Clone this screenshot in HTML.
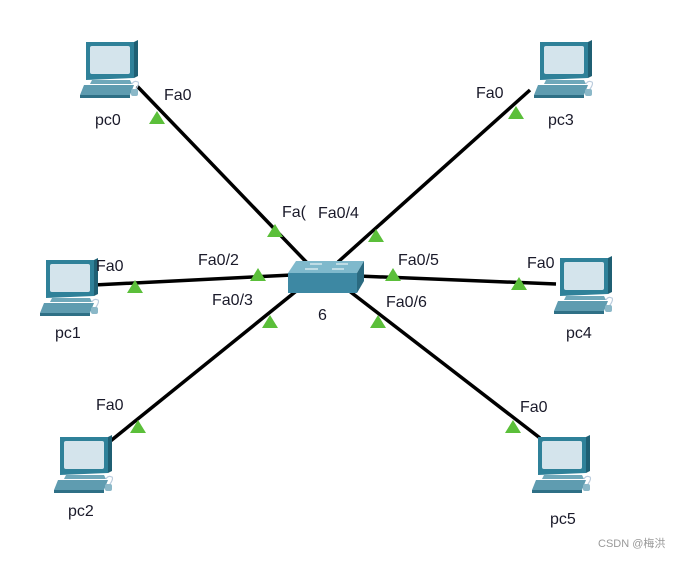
<!DOCTYPE html>
<html><head><meta charset="utf-8"><style>
body{margin:0;background:#fff;}
svg text{font-family:"Liberation Sans",Arial,sans-serif;font-size:16px;fill:#1a1a2a;}
</style></head><body>
<svg width="675" height="556" viewBox="0 0 675 556" xmlns="http://www.w3.org/2000/svg">
<defs>
<g id="pc">
  <path d="M6 0 L54 0 L54 36 L6 38 Z" fill="#2f8199"/>
  <path d="M54 0 L58 -2 L58 34 L54 36 Z" fill="#1f5f73"/>
  <rect x="10" y="4" width="40" height="28" rx="2" fill="#d4e4ec"/>
  <path d="M12 38 L50 38 L52 42 L10 42 Z" fill="#6fa8ba"/>
  <path d="M4 43 L54 43 L50 53 L0 53 Z" fill="#5f9cb0"/>
  <path d="M0 53 L50 53 L50 56 L0 56 Z" fill="#2f7086"/>
  <path d="M54 50 q6 -8 4 -10 q-4 -2 -6 2" fill="none" stroke="#bcd" stroke-width="1.2"/>
  <rect x="51" y="47" width="7" height="7" rx="2" fill="#8bb8c8"/>
</g>
<polygon id="tri" points="0,-7 8,6 -8,6" fill="#5bbf3a"/>
</defs>
<g stroke="#000" stroke-width="3.5">
  <line x1="137" y1="86" x2="312" y2="268"/>
  <line x1="530" y1="90" x2="338" y2="262"/>
  <line x1="94" y1="285" x2="292" y2="275"/>
  <line x1="358" y1="276" x2="556" y2="284"/>
  <line x1="108" y1="443" x2="300" y2="288"/>
  <line x1="348" y1="290" x2="540" y2="438"/>
</g>
<use href="#tri" x="157" y="118"/><use href="#tri" x="275" y="231"/>
<use href="#tri" x="516" y="113"/><use href="#tri" x="376" y="236"/>
<use href="#tri" x="135" y="287"/><use href="#tri" x="258" y="275"/>
<use href="#tri" x="519" y="284"/><use href="#tri" x="393" y="275"/>
<use href="#tri" x="138" y="427"/><use href="#tri" x="270" y="322"/>
<use href="#tri" x="513" y="427"/><use href="#tri" x="378" y="322"/>
<polygon points="296,261 364,261 357,273 288,273" fill="#7fb9cc"/>
<polygon points="288,273 357,273 357,293 288,293" fill="#3d88a3"/>
<polygon points="357,273 364,261 364,281 357,293" fill="#2a6a80"/>
<g stroke="#e8f2f6" stroke-width="1.2"><line x1="310" y1="264" x2="322" y2="264"/><line x1="336" y1="264" x2="348" y2="264"/><line x1="305" y1="269" x2="318" y2="269"/><line x1="332" y1="269" x2="344" y2="269"/></g>
<use href="#pc" x="80" y="42"/>
<use href="#pc" x="534" y="42"/>
<use href="#pc" x="40" y="260"/>
<use href="#pc" x="554" y="258"/>
<use href="#pc" x="54" y="437"/>
<use href="#pc" x="532" y="437"/>
<text x="164" y="100">Fa0</text>
<text x="476" y="98">Fa0</text>
<text x="96" y="271">Fa0</text>
<text x="527" y="268">Fa0</text>
<text x="96" y="410">Fa0</text>
<text x="520" y="412">Fa0</text>
<text x="282" y="217">Fa(</text>
<text x="318" y="218">Fa0/4</text>
<text x="198" y="265">Fa0/2</text>
<text x="212" y="305">Fa0/3</text>
<text x="398" y="265">Fa0/5</text>
<text x="386" y="307">Fa0/6</text>
<text x="318" y="320">6</text>
<text x="95" y="125">pc0</text>
<text x="548" y="125">pc3</text>
<text x="55" y="338">pc1</text>
<text x="566" y="338">pc4</text>
<text x="68" y="516">pc2</text>
<text x="550" y="524">pc5</text>
<text x="598" y="547" style="font-size:11px;fill:#999;font-family:'Liberation Sans','Noto Sans CJK SC',sans-serif">CSDN @梅洪</text>
</svg>
</body></html>
